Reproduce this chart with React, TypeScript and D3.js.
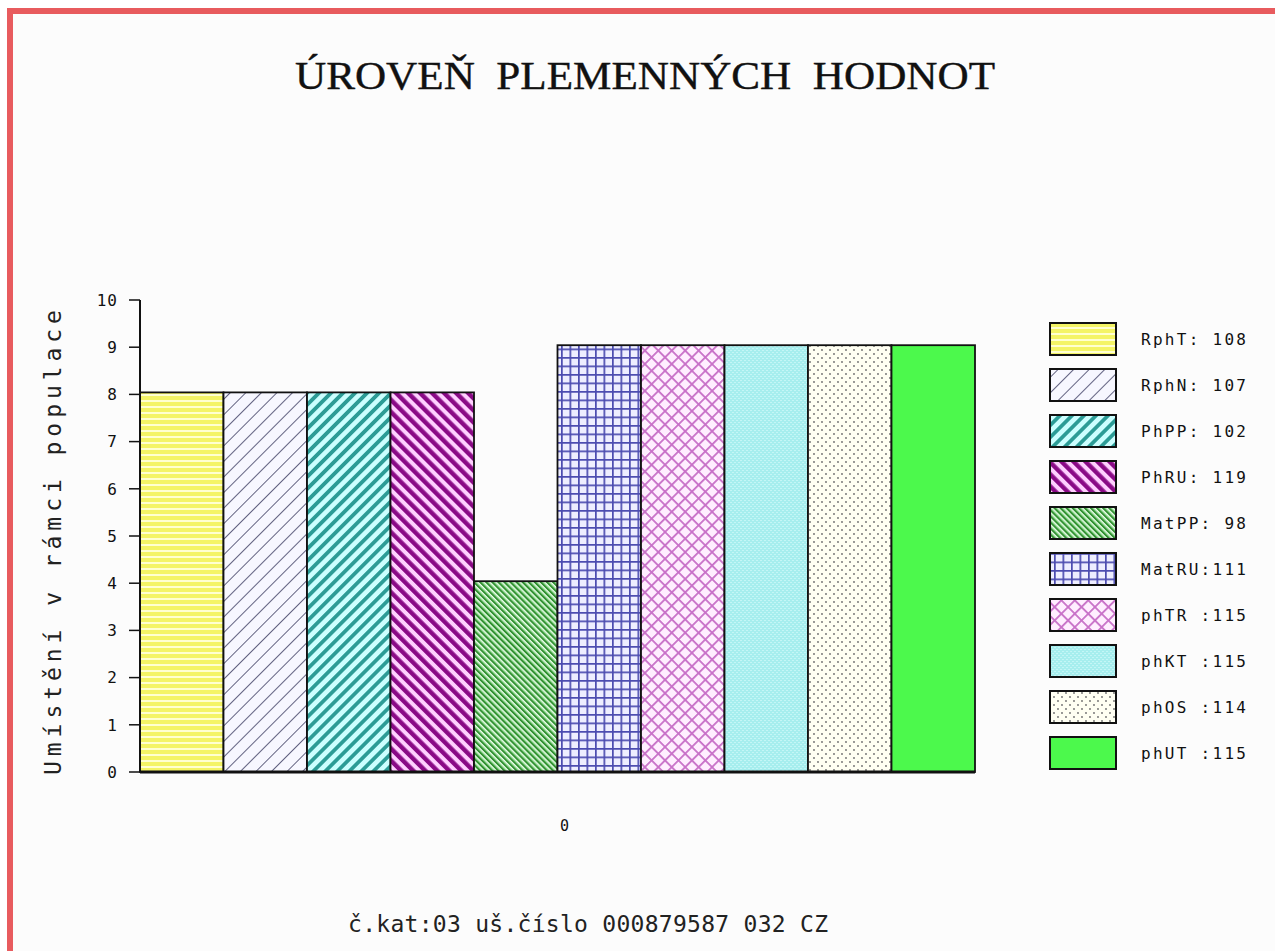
import React from 'react';
import * as d3 from 'd3';

const categories = ['RphT', 'RphN', 'PhPP', 'PhRU', 'MatPP', 'MatRU', 'phTR', 'phKT', 'phOS', 'phUT'];
const ranks = [8, 8, 8, 8, 4, 9, 9, 9, 9, 9];
const legendLabels = [
  'RphT: 108', 'RphN: 107', 'PhPP: 102', 'PhRU: 119', 'MatPP: 98',
  'MatRU:111', 'phTR :115', 'phKT :115', 'phOS :114', 'phUT :115',
];
const xTickLabels = ['0'];
const title = 'ÚROVEŇ  PLEMENNÝCH  HODNOT';
const yTitle = 'Umístění v rámci populace';
const footer = 'č.kat:03 uš.číslo 000879587 032 CZ';

const W = 1275;
const H = 951;
const margin = { left: 140, right: 975, top: 300, bottom: 772 };
const mono = '"DejaVu Sans Mono", "Liberation Mono", monospace';

const Patterns = () => (
  <defs>
    {/* RphT - vodorovné žluté pruhy */}
    <pattern id="p0" patternUnits="userSpaceOnUse" width="8" height="6">
      <rect width="8" height="6" fill="#ffffd0" />
      <rect y="0" width="8" height="4" fill="#f4f466" />
    </pattern>
    {/* RphN - tenké šikmé čáry / */}
    <pattern id="p1" patternUnits="userSpaceOnUse" width="11" height="11" patternTransform="rotate(45)">
      <rect width="11" height="11" fill="#f7f7ff" />
      <line x1="0" y1="0" x2="0" y2="11" stroke="#22224a" strokeWidth="1.4" />
    </pattern>
    {/* PhPP - tyrkysové pruhy / */}
    <pattern id="p2" patternUnits="userSpaceOnUse" width="8.5" height="8.5" patternTransform="rotate(45)">
      <rect width="8.5" height="8.5" fill="#ccffff" />
      <rect width="3.8" height="8.5" fill="#2c9c96" />
    </pattern>
    {/* PhRU - fialové pruhy \ */}
    <pattern id="p3" patternUnits="userSpaceOnUse" width="8.5" height="8.5" patternTransform="rotate(-45)">
      <rect width="8.5" height="8.5" fill="#ffd0ff" />
      <rect width="4.4" height="8.5" fill="#8a0a86" />
    </pattern>
    {/* MatPP - jemné zelené pruhy \ */}
    <pattern id="p4" patternUnits="userSpaceOnUse" width="4.3" height="4.3" patternTransform="rotate(-45)">
      <rect width="4.3" height="4.3" fill="#e8fbe8" />
      <rect width="1.7" height="4.3" fill="#2f8f2f" />
      <rect x="1.7" width="1.2" height="4.3" fill="#7fcf7f" />
    </pattern>
    {/* MatRU - modrá mřížka */}
    <pattern id="p5" patternUnits="userSpaceOnUse" width="8.5" height="8.5">
      <rect width="8.5" height="8.5" fill="#eeeeff" />
      <rect width="8.5" height="1.7" fill="#4c4cb0" />
      <rect width="1.7" height="8.5" fill="#4c4cb0" />
    </pattern>
    {/* phTR - růžová kosočtvercová síť */}
    <pattern id="p6" patternUnits="userSpaceOnUse" width="9.5" height="9.5" patternTransform="rotate(45)">
      <rect width="9.5" height="9.5" fill="#ffeeff" />
      <rect width="9.5" height="1.8" fill="#c870c8" />
      <rect width="1.8" height="9.5" fill="#c870c8" />
    </pattern>
    {/* phKT - světle tyrkysová */}
    <pattern id="p7" patternUnits="userSpaceOnUse" width="4" height="4">
      <rect width="4" height="4" fill="#a6eeee" />
      <rect x="0" y="0" width="2" height="1" fill="#c4f6f6" />
      <rect x="2" y="2" width="2" height="1" fill="#c4f6f6" />
    </pattern>
    {/* phOS - tečky */}
    <pattern id="p8" patternUnits="userSpaceOnUse" width="8" height="8">
      <rect width="8" height="8" fill="#fffff2" />
      <circle cx="2" cy="2" r="0.9" fill="#6a6a6a" />
      <circle cx="6" cy="6" r="0.9" fill="#6a6a6a" />
    </pattern>
    <pattern id="p9" patternUnits="userSpaceOnUse" width="4" height="4">
      <rect width="4" height="4" fill="#4cf94c" />
    </pattern>
  </defs>
);

export default function App() {
  const x = d3.scaleBand<string>().domain(categories).range([margin.left, margin.right]).padding(0);
  const y = d3.scaleLinear().domain([0, 10]).range([margin.bottom, margin.top]);
  const ticks = y.ticks(10);
  const xMid = (margin.left + margin.right) / 2;

  return (
    <svg
      width={W}
      height={H}
      style={{ position: 'absolute', left: 0, top: 0, background: '#ffffff' }}
    >
      <Patterns />
      {/* rámeček */}
      <rect x={7} y={8} width={W - 7} height={H - 8} fill="#fcfcfc" />
      <rect x={7} y={8} width={W - 7} height={6} fill="#e85b5e" />
      <rect x={7} y={8} width={6} height={H - 8} fill="#e85b5e" />

      <text
        x={645}
        y={89}
        textAnchor="middle"
        fontFamily='"Liberation Serif", "DejaVu Serif", serif'
        fontSize={41}
        textLength={700}
        lengthAdjust="spacingAndGlyphs"
        fill="#111"
        stroke="#111"
        strokeWidth={0.4}
        style={{ whiteSpace: 'pre' }}
      >
        {title}
      </text>

      {/* sloupce */}
      {categories.map((c, i) => (
        <rect
          key={c}
          x={x(c)}
          y={y(ranks[i]) - 2}
          width={x.bandwidth()}
          height={y(0) - y(ranks[i]) + 2}
          fill={`url(#p${i})`}
          stroke="#111"
          strokeWidth={1.8}
        />
      ))}

      {/* osa Y */}
      <line x1={margin.left} x2={margin.left} y1={y(10)} y2={y(0)} stroke="#111" strokeWidth={2} />
      {ticks.map((t) => (
        <g key={t}>
          <line x1={margin.left - 11} x2={margin.left} y1={y(t)} y2={y(t)} stroke="#111" strokeWidth={1.5} />
          <text
            x={118}
            y={y(t)}
            dy="0.36em"
            textAnchor="end"
            fontFamily={mono}
            fontSize={16}
            letterSpacing={1}
            fill="#111"
          >
            {t}
          </text>
        </g>
      ))}
      {/* osa X */}
      <line x1={margin.left} x2={margin.right} y1={y(0)} y2={y(0)} stroke="#111" strokeWidth={3} />
      {xTickLabels.map((l) => (
        <text key={l} x={xMid + 7} y={831} textAnchor="middle" fontFamily={mono} fontSize={15} fill="#111">
          {l}
        </text>
      ))}

      <text
        transform={`translate(61,${(310 + 775) / 2}) rotate(-90)`}
        textAnchor="middle"
        fontFamily={mono}
        fontSize={23}
        textLength={465}
        lengthAdjust="spacing"
        fill="#222"
      >
        {yTitle}
      </text>

      {/* legenda */}
      {legendLabels.map((l, i) => (
        <g key={l} transform={`translate(0,${323 + i * 46})`}>
          <rect x={1050} y={0} width={66} height={32} fill={`url(#p${i})`} stroke="#111" strokeWidth={2} />
          <text
            x={1141}
            y={16}
            dy="0.36em"
            fontFamily={mono}
            fontSize={16}
            textLength={105}
            lengthAdjust="spacing"
            fill="#111"
            style={{ whiteSpace: 'pre' }}
          >
            {l}
          </text>
        </g>
      ))}

      <text
        x={348}
        y={932}
        fontFamily={mono}
        fontSize={23}
        textLength={480}
        lengthAdjust="spacing"
        fill="#222"
      >
        {footer}
      </text>
    </svg>
  );
}
